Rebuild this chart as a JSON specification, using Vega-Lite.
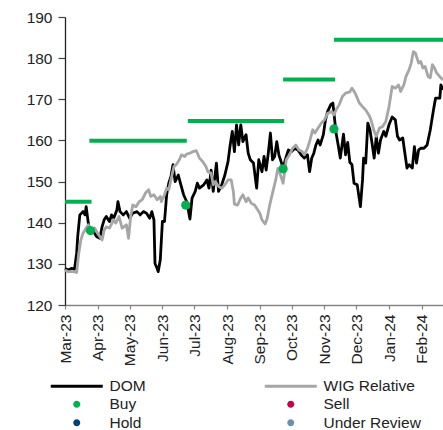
{
"$schema": "https://vega.github.io/schema/vega-lite/v6.json",
"width": 378, "height": 288,
"autosize": {"type": "none"},
"padding": {"left": 65, "top": 17, "right": 0, "bottom": 125},
"background": "white",
"config": {"view": {"stroke": null}, "font": "Liberation Sans",
  "axis": {"labelFont": "Liberation Sans", "labelFontSize": 15.5, "labelColor": "#222222", "grid": false, "title": null}},
"datasets": {
"dom": [
{"d":"2023-03-01","v":128.9},{"d":"2023-03-04","v":128.5},{"d":"2023-03-07","v":128.9},{"d":"2023-03-10","v":128.7},{"d":"2023-03-12","v":132.6},{"d":"2023-03-13","v":136.6},{"d":"2023-03-15","v":141.9},{"d":"2023-03-18","v":142.7},{"d":"2023-03-20","v":141.9},{"d":"2023-03-21","v":143.9},{"d":"2023-03-23","v":139.9},{"d":"2023-03-25","v":137.4},{"d":"2023-03-28","v":137.8},{"d":"2023-03-31","v":136.6},
{"d":"2023-04-03","v":136.2},{"d":"2023-04-05","v":139.0},{"d":"2023-04-07","v":140.7},{"d":"2023-04-09","v":141.5},{"d":"2023-04-12","v":140.3},{"d":"2023-04-14","v":141.9},{"d":"2023-04-16","v":141.1},{"d":"2023-04-19","v":143.1},{"d":"2023-04-20","v":145.1},{"d":"2023-04-22","v":142.7},{"d":"2023-04-25","v":141.9},{"d":"2023-04-28","v":142.7},
{"d":"2023-05-01","v":141.1},{"d":"2023-05-04","v":142.3},{"d":"2023-05-08","v":142.7},{"d":"2023-05-11","v":141.9},{"d":"2023-05-14","v":142.7},{"d":"2023-05-17","v":142.3},{"d":"2023-05-20","v":141.1},{"d":"2023-05-22","v":142.7},{"d":"2023-05-24","v":140.7},{"d":"2023-05-25","v":130.1},{"d":"2023-05-27","v":128.9},{"d":"2023-05-28","v":128.1},{"d":"2023-05-30","v":131.0},
{"d":"2023-06-01","v":140.3},{"d":"2023-06-03","v":140.3},{"d":"2023-06-05","v":146.8},{"d":"2023-06-07","v":149.6},{"d":"2023-06-09","v":151.2},{"d":"2023-06-11","v":154.1},{"d":"2023-06-13","v":150.0},{"d":"2023-06-16","v":151.6},{"d":"2023-06-18","v":149.6},{"d":"2023-06-21","v":146.8},{"d":"2023-06-24","v":145.1},{"d":"2023-06-27","v":140.9},{"d":"2023-06-29","v":146.0},
{"d":"2023-07-02","v":147.6},{"d":"2023-07-04","v":149.6},{"d":"2023-07-06","v":148.4},{"d":"2023-07-10","v":149.2},{"d":"2023-07-13","v":150.4},{"d":"2023-07-15","v":148.4},{"d":"2023-07-17","v":152.8},{"d":"2023-07-19","v":147.6},{"d":"2023-07-22","v":154.5},{"d":"2023-07-24","v":147.6},{"d":"2023-07-27","v":149.2},{"d":"2023-07-30","v":151.6},
{"d":"2023-08-02","v":154.9},{"d":"2023-08-04","v":158.9},{"d":"2023-08-06","v":162.2},{"d":"2023-08-08","v":157.3},{"d":"2023-08-10","v":163.8},{"d":"2023-08-12","v":158.9},{"d":"2023-08-14","v":163.8},{"d":"2023-08-16","v":159.7},{"d":"2023-08-19","v":161.4},{"d":"2023-08-21","v":156.9},{"d":"2023-08-23","v":155.3},{"d":"2023-08-26","v":154.5},{"d":"2023-08-29","v":148.4},{"d":"2023-08-31","v":155.3},
{"d":"2023-09-03","v":152.4},{"d":"2023-09-05","v":156.1},{"d":"2023-09-07","v":152.8},{"d":"2023-09-09","v":156.9},{"d":"2023-09-11","v":161.8},{"d":"2023-09-13","v":155.3},{"d":"2023-09-15","v":156.1},{"d":"2023-09-17","v":159.7},{"d":"2023-09-19","v":156.5},{"d":"2023-09-21","v":154.9},{"d":"2023-09-23","v":153.3},{"d":"2023-09-26","v":156.1},{"d":"2023-09-28","v":157.7},
{"d":"2023-10-01","v":157.3},{"d":"2023-10-04","v":158.1},{"d":"2023-10-07","v":157.7},{"d":"2023-10-10","v":156.5},{"d":"2023-10-13","v":155.7},{"d":"2023-10-16","v":156.5},{"d":"2023-10-18","v":152.4},{"d":"2023-10-20","v":155.7},{"d":"2023-10-22","v":156.9},{"d":"2023-10-24","v":158.9},{"d":"2023-10-26","v":160.1},{"d":"2023-10-28","v":158.9},{"d":"2023-10-31","v":161.4},
{"d":"2023-11-02","v":165.0},{"d":"2023-11-04","v":167.0},{"d":"2023-11-07","v":168.7},{"d":"2023-11-09","v":169.1},{"d":"2023-11-12","v":161.8},{"d":"2023-11-14","v":158.9},{"d":"2023-11-16","v":155.7},{"d":"2023-11-19","v":161.5},{"d":"2023-11-21","v":156.5},{"d":"2023-11-23","v":159.5},{"d":"2023-11-25","v":154.7},{"d":"2023-11-27","v":154.1},{"d":"2023-11-29","v":149.6},
{"d":"2023-12-02","v":149.2},{"d":"2023-12-05","v":143.9},{"d":"2023-12-07","v":150.4},{"d":"2023-12-08","v":155.7},{"d":"2023-12-10","v":154.5},{"d":"2023-12-12","v":164.2},{"d":"2023-12-14","v":162.6},{"d":"2023-12-16","v":159.3},{"d":"2023-12-18","v":155.7},{"d":"2023-12-20","v":161.0},{"d":"2023-12-22","v":156.9},{"d":"2023-12-24","v":160.1},{"d":"2023-12-27","v":162.2},{"d":"2023-12-29","v":161.0},
{"d":"2024-01-01","v":163.8},{"d":"2024-01-04","v":165.7},{"d":"2024-01-07","v":165.0},{"d":"2024-01-09","v":161.0},{"d":"2024-01-11","v":160.1},{"d":"2024-01-14","v":160.6},{"d":"2024-01-16","v":156.9},{"d":"2024-01-18","v":153.3},{"d":"2024-01-20","v":154.1},{"d":"2024-01-23","v":153.3},{"d":"2024-01-25","v":158.5},{"d":"2024-01-27","v":154.5},{"d":"2024-01-29","v":157.7},{"d":"2024-01-31","v":158.1},
{"d":"2024-02-03","v":158.1},{"d":"2024-02-06","v":158.9},{"d":"2024-02-09","v":162.6},{"d":"2024-02-10","v":164.2},{"d":"2024-02-12","v":167.4},{"d":"2024-02-14","v":170.3},{"d":"2024-02-18","v":170.3},{"d":"2024-02-19","v":173.5},{"d":"2024-02-21","v":172.3}
],
"wig": [
{"d":"2023-03-01","v":128.5},{"d":"2023-03-04","v":128.1},{"d":"2023-03-09","v":128.1},{"d":"2023-03-12","v":127.9},{"d":"2023-03-14","v":132.6},{"d":"2023-03-16","v":135.8},{"d":"2023-03-18","v":137.4},{"d":"2023-03-21","v":138.7},{"d":"2023-03-23","v":139.5},{"d":"2023-03-26","v":137.8},{"d":"2023-03-29","v":138.7},
{"d":"2023-04-01","v":137.4},{"d":"2023-04-05","v":135.8},{"d":"2023-04-07","v":138.2},{"d":"2023-04-09","v":139.0},{"d":"2023-04-12","v":138.7},{"d":"2023-04-16","v":140.7},{"d":"2023-04-18","v":139.9},{"d":"2023-04-21","v":141.5},{"d":"2023-04-24","v":138.7},{"d":"2023-04-28","v":139.5},{"d":"2023-04-30","v":136.2},
{"d":"2023-05-02","v":141.5},{"d":"2023-05-04","v":144.3},{"d":"2023-05-07","v":143.9},{"d":"2023-05-10","v":145.1},{"d":"2023-05-13","v":145.6},{"d":"2023-05-16","v":147.2},{"d":"2023-05-19","v":148.0},{"d":"2023-05-21","v":146.4},{"d":"2023-05-24","v":146.8},{"d":"2023-05-27","v":145.6},{"d":"2023-05-30","v":146.4},{"d":"2023-05-31","v":145.1},
{"d":"2023-06-03","v":146.8},{"d":"2023-06-05","v":148.4},{"d":"2023-06-07","v":148.0},{"d":"2023-06-10","v":151.6},{"d":"2023-06-12","v":153.7},{"d":"2023-06-14","v":154.1},{"d":"2023-06-17","v":155.3},{"d":"2023-06-19","v":156.5},{"d":"2023-06-22","v":156.1},{"d":"2023-06-24","v":156.7},{"d":"2023-06-27","v":156.9},{"d":"2023-06-30","v":157.3},
{"d":"2023-07-03","v":157.5},{"d":"2023-07-06","v":155.7},{"d":"2023-07-09","v":154.9},{"d":"2023-07-12","v":153.7},{"d":"2023-07-14","v":152.4},{"d":"2023-07-17","v":152.0},{"d":"2023-07-19","v":149.2},{"d":"2023-07-21","v":150.0},{"d":"2023-07-24","v":148.8},{"d":"2023-07-27","v":148.4},{"d":"2023-07-30","v":149.2},
{"d":"2023-08-02","v":150.4},{"d":"2023-08-05","v":150.4},{"d":"2023-08-07","v":147.6},{"d":"2023-08-08","v":144.5},{"d":"2023-08-11","v":144.3},{"d":"2023-08-14","v":146.0},{"d":"2023-08-16","v":146.8},{"d":"2023-08-19","v":145.1},{"d":"2023-08-21","v":146.0},{"d":"2023-08-24","v":144.7},{"d":"2023-08-27","v":144.3},{"d":"2023-08-29","v":143.5},
{"d":"2023-09-01","v":142.3},{"d":"2023-09-03","v":140.7},{"d":"2023-09-06","v":139.7},{"d":"2023-09-08","v":141.1},{"d":"2023-09-10","v":143.9},{"d":"2023-09-13","v":147.2},{"d":"2023-09-16","v":150.4},{"d":"2023-09-18","v":153.2},{"d":"2023-09-20","v":152.0},{"d":"2023-09-23","v":149.6},{"d":"2023-09-26","v":155.3},{"d":"2023-09-29","v":156.5},
{"d":"2023-10-02","v":158.1},{"d":"2023-10-05","v":158.9},{"d":"2023-10-08","v":157.7},{"d":"2023-10-11","v":157.3},{"d":"2023-10-13","v":156.5},{"d":"2023-10-16","v":158.1},{"d":"2023-10-18","v":159.7},{"d":"2023-10-21","v":162.6},{"d":"2023-10-23","v":161.8},{"d":"2023-10-26","v":163.0},{"d":"2023-10-29","v":164.2},
{"d":"2023-11-01","v":165.0},{"d":"2023-11-04","v":166.6},{"d":"2023-11-08","v":167.0},{"d":"2023-11-10","v":166.2},{"d":"2023-11-12","v":167.4},{"d":"2023-11-15","v":168.7},{"d":"2023-11-18","v":170.7},{"d":"2023-11-21","v":171.5},{"d":"2023-11-25","v":171.8},{"d":"2023-11-27","v":172.7},{"d":"2023-11-30","v":171.5},
{"d":"2023-12-04","v":169.1},{"d":"2023-12-07","v":168.2},{"d":"2023-12-10","v":167.4},{"d":"2023-12-13","v":166.2},{"d":"2023-12-15","v":165.0},{"d":"2023-12-18","v":162.2},{"d":"2023-12-20","v":161.0},{"d":"2023-12-23","v":163.0},{"d":"2023-12-26","v":163.4},{"d":"2023-12-29","v":164.6},
{"d":"2024-01-01","v":168.2},{"d":"2024-01-04","v":173.1},{"d":"2024-01-07","v":172.7},{"d":"2024-01-10","v":173.5},{"d":"2024-01-12","v":171.9},{"d":"2024-01-15","v":173.5},{"d":"2024-01-17","v":175.5},{"d":"2024-01-20","v":177.2},{"d":"2024-01-22","v":178.8},{"d":"2024-01-24","v":181.6},{"d":"2024-01-26","v":181.2},{"d":"2024-01-29","v":178.8},{"d":"2024-01-31","v":179.2},
{"d":"2024-02-02","v":177.6},{"d":"2024-02-04","v":178.0},{"d":"2024-02-07","v":175.5},{"d":"2024-02-09","v":175.2},{"d":"2024-02-11","v":178.4},{"d":"2024-02-13","v":177.6},{"d":"2024-02-15","v":176.4},{"d":"2024-02-18","v":175.5},{"d":"2024-02-21","v":174.7}
],
"tp": [
{"s":"2023-03-01","e":"2023-03-26","tp":145.1},
{"s":"2023-03-24","e":"2023-06-24","tp":159.9},
{"s":"2023-06-25","e":"2023-09-24","tp":164.7},
{"s":"2023-09-23","e":"2023-11-11","tp":174.8},
{"s":"2023-11-10","e":"2024-02-21","tp":184.5}
],
"rec": [
{"d":"2023-03-25","v":138.1,"r":"Buy"},
{"d":"2023-06-23","v":144.3,"r":"Buy"},
{"d":"2023-09-23","v":153.1,"r":"Buy"},
{"d":"2023-11-10","v":162.8,"r":"Buy"}
]
},
"encoding": {
  "x": {"field": "d", "type": "temporal",
    "scale": {"type": "utc", "domain": [{"year": 2023, "month": 3, "date": 1, "utc": true}, {"year": 2024, "month": 2, "date": 21, "utc": true}]},
    "axis": {"format": "%b-%y", "labelAngle": 270, "tickCount": {"interval": "month", "step": 1}, "domainColor": "#868686", "domainWidth": 1.5, "tickColor": "#868686", "tickWidth": 1.2, "tickSize": 4, "labelPadding": 5, "labelOverlap": false, "labelFlush": false, "labelBound": false}},
  "y": {"field": "v", "type": "quantitative",
    "scale": {"domain": [120, 190], "nice": false, "zero": false},
    "axis": {"values": [120, 130, 140, 150, 160, 170, 180, 190], "domainColor": "#222222", "domainWidth": 1.3, "tickColor": "#444444", "tickWidth": 1.2, "tickSize": 7, "labelPadding": 6}}
},
"layer": [
  {"data": {"name": "dom"},
   "mark": {"type": "line", "strokeWidth": 2.8, "strokeJoin": "round"},
   "encoding": {"color": {"datum": "DOM",
      "scale": {"domain": ["DOM", "Buy", "Hold", "WIG Relative", "Sell", "Under Review"], "range": ["#000000", "#00B050", "#00427A", "#A6A6A6", "#C8004B", "#6A92B0"]},
      "legend": {"title": null, "orient": "none", "legendX": 4, "legendY": 361, "columns": 2, "columnPadding": 112, "rowPadding": 1.5, "padding": 0,
        "symbolSize": 169, "labelOffset": 25, "labelFont": "Liberation Sans", "labelFontSize": 15.5, "labelColor": "#222222",
        "encode": {"symbols": {"update": {
          "shape": {"signal": "(datum.value == 'DOM' || datum.value == 'WIG Relative') ? 'M-4,0H4' : 'M0.54,0A0.54,0.54,0,1,1,-0.54,0A0.54,0.54,0,1,1,0.54,0Z'"},
          "stroke": {"scale": "color", "field": "value"},
          "fill": {"scale": "color", "field": "value"},
          "strokeWidth": {"signal": "(datum.value == 'DOM' || datum.value == 'WIG Relative') ? 3 : 0"},
          "size": {"value": 169},
          "opacity": {"value": 1},
          "fillOpacity": {"value": 1},
          "strokeOpacity": {"value": 1}
        }}}}}}},
  {"data": {"name": "wig"},
   "mark": {"type": "line", "strokeWidth": 2.8, "strokeJoin": "round"},
   "encoding": {"color": {"datum": "WIG Relative"}}},
  {"data": {"name": "tp"},
   "mark": {"type": "rule", "strokeWidth": 4, "color": "#00B050"},
   "encoding": {"x": {"field": "s", "type": "temporal"}, "x2": {"field": "e"}, "y": {"field": "tp", "type": "quantitative"}}},
  {"data": {"name": "rec"},
   "mark": {"type": "circle", "size": 85, "opacity": 1},
   "encoding": {"color": {"datum": "Buy"}}}
]
}
